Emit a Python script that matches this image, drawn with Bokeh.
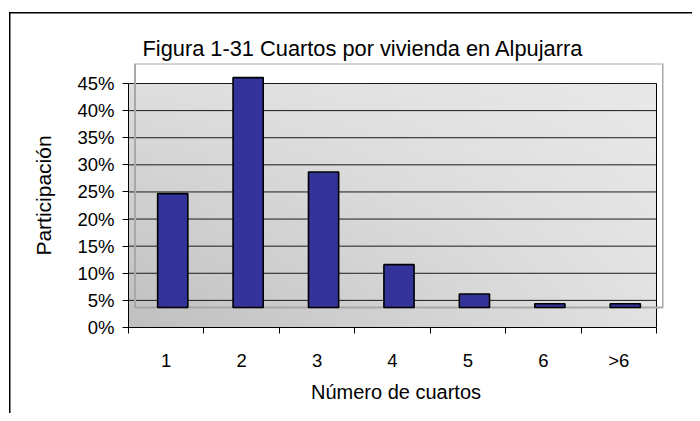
import numpy as np
from bokeh.plotting import figure
from bokeh.models import (Range1d, FixedTicker, NumeralTickFormatter, LinearAxis,
                          ColumnDataSource)
from bokeh.embed import file_html
from bokeh.resources import INLINE

# ---- data ----
categories = ["1", "2", "3", "4", "5", "6", ">6"]
participacion = [0.210, 0.424, 0.250, 0.079, 0.025, 0.007, 0.007]
y_ticks = [0.0, 0.05, 0.10, 0.15, 0.20, 0.25, 0.30, 0.35, 0.40, 0.45]
title_text = "Figura 1-31 Cuartos por vivienda en Alpujarra"
x_title = "Número de cuartos"
y_title = "Participación"

FONT = "Liberation Sans"
n = len(categories)
ymax = y_ticks[-1]

# pixel geometry helpers (style only)
W, H = 692, 413
ML, MR, MT, MB = 128, 29, 63, 86
wall_px_w = 528.0
wall_px_h = 244.0
fw = W - ML - MR
fh = H - MT - MB
ux = n / wall_px_w      # data units per px (x)
uy = ymax / wall_px_h   # data units per px (y)
dx = 6.5 * ux           # 3-D depth offset
dy = 20 * uy

p = figure(width=W, height=H, output_backend="svg", toolbar_location=None,
           x_range=Range1d(0.5, 0.5 + fw * ux), y_range=Range1d(0, fh * uy),
           min_border_left=ML, min_border_right=MR, min_border_top=MT, min_border_bottom=MB,
           x_axis_type=None, y_axis_type=None)
p.background_fill_color = "white"
p.border_fill_color = None
p.outline_line_color = None
p.xgrid.visible = False
p.ygrid.visible = False
# outer chart-area border (drawn behind the transparent canvas border)
p.styles = {
    "background": ("linear-gradient(#000,#000) 9px 12px / 1.5px 100% no-repeat, "
                   "linear-gradient(#000,#000) 9px 12px / 100% 1.5px no-repeat, #fff"),
}

# title
p.title.text = title_text
p.title.align = "left"
p.title.offset = 14
p.title.standoff = 5
p.title.text_font = FONT
p.title.text_font_size = "21.8px"
p.title.text_font_style = "normal"
p.title.text_color = "black"

# wall gradient (background styling)
ny, nx = 60, 140
u = np.linspace(0, 1, nx)[None, :]
v = np.linspace(0, 1, ny)[:, None]
g = (192 * (1 - u) * (1 - v) + 222 * (1 - u) * v + 226 * u * (1 - v) + 233 * u * v)
g = g.astype(np.uint8)
img = np.empty((ny, nx), dtype=np.uint32)
view = img.view(dtype=np.uint8).reshape((ny, nx, 4))
view[:, :, 0] = g
view[:, :, 1] = g
view[:, :, 2] = g
view[:, :, 3] = 255
p.image_rgba(image=[img], x=0.5, y=0, dw=n, dh=ymax, level="image")

# gridlines on the wall
grid_y = y_ticks[1:]
p.segment(x0=[0.5] * len(grid_y), x1=[0.5 + n] * len(grid_y), y0=grid_y, y1=grid_y,
          line_color="#1a1a1a", line_width=1)
# right edge of wall
p.segment(x0=[0.5 + n], x1=[0.5 + n], y0=[0], y1=[ymax], line_color="black", line_width=1)

# plot-area (back) outline in gray
p.quad(left=[0.5 + dx], right=[0.5 + n + dx], bottom=[dy], top=[ymax + dy],
       fill_color=None, line_color="#a8a8a8", line_width=2)

# bars
xs = [i + 1 for i in range(n)]
src = ColumnDataSource(dict(x=[x + dx for x in xs],
                            top=[val + dy for val in participacion],
                            bottom=[dy] * n))
p.vbar(x="x", top="top", bottom="bottom", width=0.4, source=src,
       fill_color="#333399", line_color="black", line_width=1.6)

# axes
yaxis = LinearAxis(bounds=(0, ymax), ticker=FixedTicker(ticks=y_ticks),
                   formatter=NumeralTickFormatter(format="0%"))
yaxis.axis_label = y_title
yaxis.axis_label_text_font = FONT
yaxis.axis_label_text_font_size = "21px"
yaxis.axis_label_text_font_style = "normal"
yaxis.axis_label_text_color = "black"
yaxis.axis_label_standoff = 19
yaxis.major_label_text_font = FONT
yaxis.major_label_text_font_size = "18.5px"
yaxis.major_label_text_color = "black"
yaxis.major_label_standoff = 8
yaxis.major_tick_in = 0
yaxis.major_tick_out = 6
yaxis.minor_tick_out = 0
yaxis.minor_tick_in = 0
yaxis.axis_line_color = "black"
yaxis.major_tick_line_color = "black"
p.add_layout(yaxis, "left")

xaxis = LinearAxis(bounds=(0.5, 0.5 + n),
                   ticker=FixedTicker(ticks=xs, minor_ticks=[0.5 + i for i in range(n + 1)]))
xaxis.major_label_overrides = {x: c for x, c in zip(xs, categories)}
xaxis.axis_label = x_title
xaxis.axis_label_text_font = FONT
xaxis.axis_label_text_font_size = "20px"
xaxis.axis_label_text_font_style = "normal"
xaxis.axis_label_text_color = "black"
xaxis.axis_label_standoff = 7
xaxis.major_label_text_font = FONT
xaxis.major_label_text_font_size = "18.5px"
xaxis.major_label_text_color = "black"
xaxis.major_label_standoff = 16
xaxis.major_tick_in = 0
xaxis.major_tick_out = 0
xaxis.minor_tick_in = 0
xaxis.minor_tick_out = 6
xaxis.minor_tick_line_color = "black"
xaxis.axis_line_color = "black"
p.add_layout(xaxis, "below")

open("out.html", "w").write(file_html(p, INLINE))
